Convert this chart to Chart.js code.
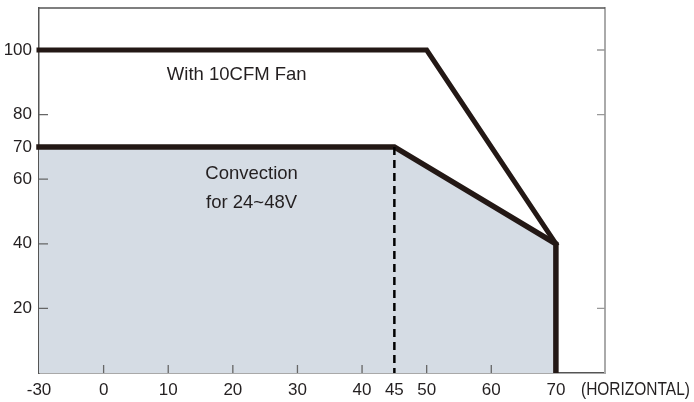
<!DOCTYPE html>
<html>
<head>
<meta charset="utf-8">
<script src="https://cdn.jsdelivr.net/npm/chart.js@4.4.1/dist/chart.umd.min.js"></script>
<style>
  html, body { margin: 0; padding: 0; background: #fff; }
  #wrap { width: 694px; height: 402px; }
</style>
</head>
<body>
<div id="wrap"><canvas id="derating"></canvas></div>
<script>
// ambient temperature (C) vs load (%)
var fanTemp = [-30, 50, 70];
var fanLoad = [100, 100, 40];
var convTemp = [-30, 45, 70, 70];
var convLoad = [70, 70, 40, 0];
var dashTemp = [45, 45];
var dashLoad = [70, 0];

var xTicks = [-30, 0, 10, 20, 30, 40, 45, 50, 60, 70];
var yTicks = [20, 40, 60, 70, 80, 100];
// which ticks get a little inward mark
var xMarks = [0, 10, 20, 30, 40, 50, 60];
var yMarksLeft = [20, 40, 60, 80];
var yMarksRight = [20, 80, 100];

var ink = '#231815';
var textCol = '#231f20';
var sans = '"Liberation Sans", Arial, sans-serif';

// the axis is broken below 0: -30 sits one division left of 0
function toAxis(t) { return t < 0 ? t / 3 : t; }

function pts(xs, ys) {
    return xs.map(function (x, i) { return { x: toAxis(x), y: ys[i] }; });
}

function noPad(s) {
    s.paddingTop = 0;
    s.paddingBottom = 0;
    s.paddingLeft = 0;
    s.paddingRight = 0;
}

var innerTicks = {
    id: 'innerTicks',
    afterDatasetsDraw: function (chart) {
        var c = chart.ctx, a = chart.chartArea;
        var sx = chart.scales.x, sy = chart.scales.y;
        c.save();
        // top frame line
        c.strokeStyle = '#555';
        c.lineWidth = 1.5;
        c.beginPath();
        c.moveTo(a.left, a.top);
        c.lineTo(a.right, a.top);
        c.stroke();
        // inward tick marks
        c.strokeStyle = '#666';
        c.lineWidth = 1.3;
        c.beginPath();
        xMarks.forEach(function (v) {
            var px = sx.getPixelForValue(toAxis(v));
            c.moveTo(px, a.bottom);
            c.lineTo(px, a.bottom - 8);
        });
        yMarksLeft.forEach(function (v) {
            var py = sy.getPixelForValue(v);
            c.moveTo(a.left, py);
            c.lineTo(a.left + 9, py);
        });
        c.stroke();
        c.strokeStyle = '#999';
        c.beginPath();
        yMarksRight.forEach(function (v) {
            var py = sy.getPixelForValue(v);
            c.moveTo(a.right, py);
            c.lineTo(a.right - 8, py);
        });
        c.stroke();

        // curve labels
        c.fillStyle = textCol;
        c.textAlign = 'center';
        c.textBaseline = 'middle';
        c.font = '18.5px ' + sans;
        c.fillText('With 10CFM Fan', sx.getPixelForValue(20.6), sy.getPixelForValue(92.3));
        c.fillText('Convection', sx.getPixelForValue(22.9), sy.getPixelForValue(61.6));
        c.fillText('for 24~48V', sx.getPixelForValue(22.9), sy.getPixelForValue(52.6));

        // axis note, set a bit condensed like the original
        c.font = '18px ' + sans;
        c.textAlign = 'left';
        c.textBaseline = 'alphabetic';
        c.translate(a.right - 24, a.bottom + 22);
        c.scale(0.86, 1);
        c.fillText('(HORIZONTAL)', 0, 0);
        c.restore();
    }
};

var lineStyle = {
    showLine: true,
    pointRadius: 0,
    borderColor: ink,
    borderWidth: 5,
    borderJoinStyle: 'miter',
    borderCapStyle: 'square',
    tension: 0,
    clip: { left: 4, top: 4, right: 6, bottom: 0 }
};

var chart = new Chart(document.getElementById('derating'), {
    type: 'scatter',
    data: {
        datasets: [
            Object.assign({}, lineStyle, {
                label: 'With 10CFM Fan',
                data: pts(fanTemp, fanLoad),
                fill: false,
                order: 1
            }),
            {
                label: '45C',
                data: pts(dashTemp, dashLoad),
                showLine: true,
                pointRadius: 0,
                borderColor: '#000',
                borderWidth: 2.5,
                borderDash: [8, 5],
                fill: false,
                order: 2
            },
            Object.assign({}, lineStyle, {
                label: 'Convection for 24~48V',
                data: pts(convTemp, convLoad),
                fill: 'origin',
                backgroundColor: '#d5dce4',
                borderWidth: 5.5,
                order: 3
            })
        ]
    },
    options: {
        responsive: true,
        maintainAspectRatio: false,
        animation: false,
        layout: { padding: { top: 8, left: 0, right: 0, bottom: 0 } },
        plugins: {
            legend: { display: false },
            tooltip: { enabled: false }
        },
        scales: {
            x: {
                type: 'linear',
                min: toAxis(-30),
                max: 77.6,
                afterBuildTicks: function (s) {
                    s.ticks = xTicks.map(function (v) { return { value: toAxis(v) }; });
                },
                afterFit: function (s) { s.height = 29; noPad(s); },
                ticks: {
                    autoSkip: false,
                    maxRotation: 0,
                    padding: 7,
                    color: textCol,
                    font: { family: sans, size: 17 },
                    callback: function (v, i) { return String(xTicks[i]); }
                },
                grid: { drawOnChartArea: false, drawTicks: false },
                border: { color: '#555', width: 1.5 }
            },
            y: {
                type: 'linear',
                position: 'left',
                min: 0,
                max: 113,
                afterBuildTicks: function (s) {
                    s.ticks = yTicks.map(function (v) { return { value: v }; });
                },
                afterFit: function (s) { s.width = 39; noPad(s); },
                ticks: {
                    padding: 7,
                    color: textCol,
                    font: { family: sans, size: 17 }
                },
                grid: { drawOnChartArea: false, drawTicks: false },
                border: { color: '#555', width: 1.5 }
            },
            y2: {
                type: 'linear',
                position: 'right',
                min: 0,
                max: 113,
                afterFit: function (s) { s.width = 89; noPad(s); },
                ticks: { display: false },
                grid: { drawOnChartArea: false, drawTicks: false },
                border: { color: '#aaa', width: 2 }
            }
        }
    },
    plugins: [innerTicks]
});
</script>
</body>
</html>
